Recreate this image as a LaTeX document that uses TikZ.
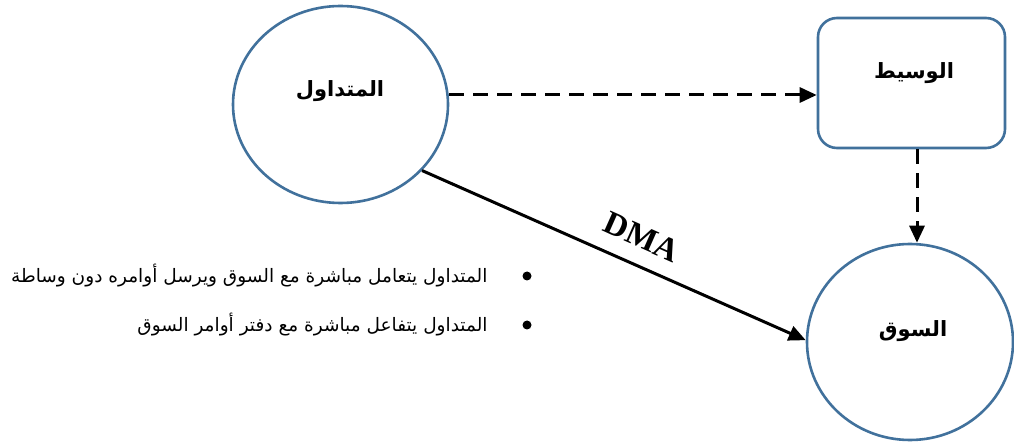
\documentclass[tikz,border=0pt]{standalone}
\usepackage{fontspec}
\setmainfont{Liberation Serif}
\newfontfamily\arabicfont[Script=Arabic]{DejaVu Sans}
\TeXXeTstate=1
\usetikzlibrary{arrows.meta,shapes.geometric,calc}
\definecolor{edgeblue}{HTML}{41719C}
\tikzset{
  labelfont/.style={font=\arabicfont\bfseries\fontsize{21}{25}\selectfont},
  shapeline/.style={draw=edgeblue, line width=2.6pt, fill=white},
  actor/.style={ellipse, shapeline, minimum width=215pt, minimum height=197pt},
  market/.style={ellipse, shapeline, minimum width=206pt, minimum height=196pt},
  broker/.style={rectangle, rounded corners=19pt, shapeline,
    minimum width=187pt, minimum height=130pt},
  flow/.style={line width=3pt, -{Triangle[length=17pt,width=15pt]}},
  dflow/.style={flow, dash pattern=on 15pt off 9pt},
  note/.style={anchor=east, font=\arabicfont\fontsize{18.5}{22}\selectfont},
  dot/.style={circle, fill=black, inner sep=0pt, minimum size=9pt}
}
\begin{document}
\begin{tikzpicture}[x=1pt,y=-1pt]
  \useasboundingbox (0,0) rectangle (1014,443);
  \begin{scope}
    \clip (0,0) rectangle (1014,443);
    % shapes
    \node[actor] (trader) at (340.5,104.5) {};
    \node[broker] (broker) at (911.5,83) {};
    \node[market] (market) at (910,342) {};
    % their titles
    \node[labelfont] (traderlbl) at (340,91) {\beginR المتداول\endR};
    \node[labelfont] (brokerlbl) at (914,73) {\beginR الوسيط\endR};
    \node[labelfont] (marketlbl) at (913,331) {\beginR السوق\endR};
  \end{scope}
  \coordinate (hy) at (0,95);
  \coordinate (vx) at (917,0);
  \draw[dflow] (trader.east |- hy) -- (broker.west |- hy);
  \draw[dflow] (broker.south -| vx) -- (market.north -| vx);
  \draw[flow] (trader.-39) -- (market.179);
  \node[rotate=-24, inner sep=0pt, font=\bfseries\fontsize{33}{36}\selectfont] (dma) at (642,237) {DMA};
  % bullet notes
  \node[dot] (b1) at (527,276) {};
  \node[dot] (b2) at (527,325) {};
  \node[note] (t1) at (491,276) {\beginR المتداول يتعامل مباشرة مع السوق ويرسل أوامره دون وساطة\endR};
  \node[note] (t2) at (491,325) {\beginR المتداول يتفاعل مباشرة مع دفتر أوامر السوق\endR};
\end{tikzpicture}
\end{document}
